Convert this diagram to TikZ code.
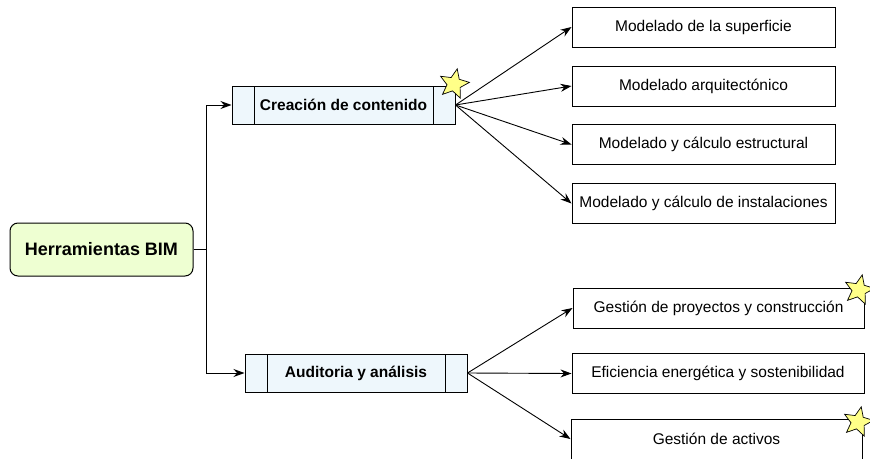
\documentclass[tikz,border=0pt]{standalone}
\usepackage{fontspec}
\setmainfont{Liberation Sans}
\usetikzlibrary{shapes.geometric,arrows.meta,calc}
\definecolor{bimfill}{HTML}{EEFFD2}
\definecolor{procfill}{HTML}{EEF7FC}
\definecolor{starfill}{HTML}{FFFF88}
\begin{document}
\begin{tikzpicture}[x=1pt,y=-1pt,
  bimbox/.style={draw, line width=1pt, rounded corners=8pt, fill=bimfill,
    minimum width=183pt, minimum height=53pt, inner sep=0pt,
    font=\bfseries\fontsize{18}{21}\selectfont},
  leaf/.style={draw, line width=1pt, minimum height=40pt, inner sep=0pt,
    font=\fontsize{15.5}{18}\selectfont},
  proc/.style={draw, line width=1pt, fill=procfill, minimum height=38pt, inner sep=0pt,
    font=\bfseries\fontsize{15.5}{18}\selectfont,
    path picture={\draw[line width=1pt]
      ([xshift=22pt]path picture bounding box.north west) -- ([xshift=22pt]path picture bounding box.south west)
      ([xshift=-22pt]path picture bounding box.north east) -- ([xshift=-22pt]path picture bounding box.south east);}},
  conn/.style={line width=0.9pt, -{Stealth[length=11pt,width=8pt]}},
  bstar/.style={star, star points=5, star point ratio=2.2, draw, fill=starfill,
    line width=0.7pt, minimum size=31pt, inner sep=0pt}
]
\useasboundingbox (0,0) rectangle (870,458);
\clip (0,0) rectangle (870,458);

\node[bimbox] (bim) at (101.5,249.5) {Herramientas BIM};
\node[proc, minimum width=223pt] (crea) at (343.5,105) {Creación de contenido};
\node[proc, minimum width=222pt] (audi) at (356,373) {Auditoria y análisis};

\node[leaf, minimum width=263pt] (b1) at (703.5,27) {Modelado de la superficie};
\node[leaf, minimum width=263pt] (b2) at (703.5,86) {Modelado arquitectónico};
\node[leaf, minimum width=263pt] (b3) at (703.5,144.5) {Modelado y cálculo estructural};
\node[leaf, minimum width=263pt] (b4) at (703.5,203.5) {Modelado y cálculo de instalaciones};
\node[leaf, minimum width=291pt] (b5) at (718.5,308) {Gestión de proyectos y construcción};
\node[leaf, minimum width=292pt] (b6) at (718,373.5) {Eficiencia energética y sostenibilidad};
\node[leaf, minimum width=291pt] (b7) at (716.5,439) {Gestión de activos};

\draw[conn] (bim.east) -- ++(12.5,0) |- (crea.west);
\draw[conn] (bim.east) -- ++(12.5,0) |- (audi.west);
\foreach \b in {b1,b2,b3,b4} \draw[conn] (crea.east) -- (\b.west);
\foreach \b in {b5,b6,b7} \draw[conn] (audi.east) -- (\b.west);

\node[bstar, rotate=-12] (s1) at (454,84) {};
\node[bstar, rotate=-12] (s2) at (859,290) {};
\node[bstar, rotate=-12] (s3) at (858,422) {};
\end{tikzpicture}
\end{document}
